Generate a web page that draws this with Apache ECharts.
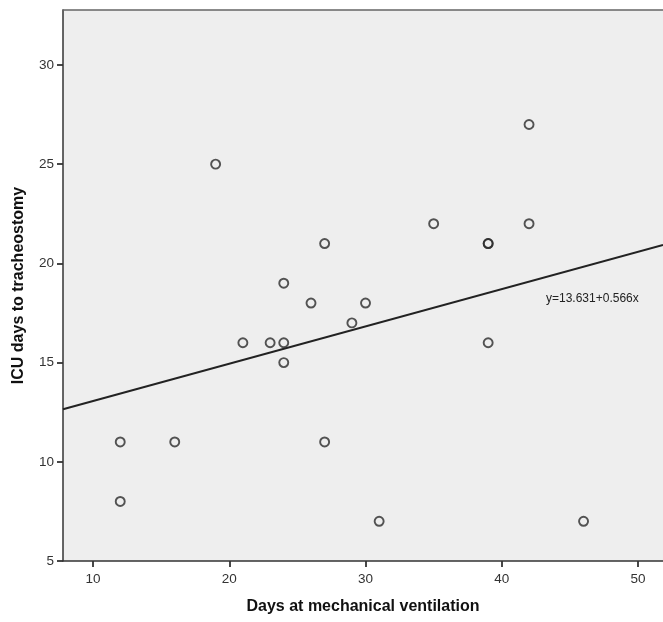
<!DOCTYPE html>
<html>
<head>
<meta charset="utf-8">
<script src="https://cdn.jsdelivr.net/npm/echarts@6/dist/echarts.min.js"></script>
<style>
html,body{margin:0;padding:0;background:#fff;}
#chart{width:663px;height:622px;}
</style>
</head>
<body>
<div id="chart"></div>
<script>
// Days at mechanical ventilation (x) vs ICU days to tracheostomy (y)
const ventDays = [12, 12, 16, 19, 21, 23, 24, 24, 24, 26, 27, 27, 29, 30, 31, 35, 39, 39, 39, 42, 42, 46];
const icuDays  = [11,  8, 11, 25, 16, 16, 19, 16, 15, 18, 21, 11, 17, 18,  7, 22, 21, 21, 16, 27, 22,  7];

// Fitted line as drawn (endpoints at the plot edges)
const fitX = [7.8, 51.83];
const fitY = [12.65, 20.93];
const equationText = 'y=13.631+0.566x';

// Axis ranges and tick labels
const xMin = 7.8, xMax = 51.83;
const yMin = 5, yMax = 32.77;
const xTicks = [10, 20, 30, 40, 50];
const yTicks = [5, 10, 15, 20, 25, 30];

const points = ventDays.map((v, i) => [v, icuDays[i]]);
const linePts = fitX.map((v, i) => [v, fitY[i]]);

const chart = echarts.init(document.getElementById('chart'), null, {renderer: 'canvas'});
const axisFont = {fontFamily: 'Liberation Sans, Arial, sans-serif', fontSize: 13.5, color: '#333'};
const nameFont = {fontFamily: 'Liberation Sans, Arial, sans-serif', fontSize: 16, fontWeight: 'bold', color: '#111'};

chart.setOption({
  animation: false,
  backgroundColor: '#ffffff',
  grid: {
    left: 63, top: 10, right: 0, bottom: 61,
    show: true, backgroundColor: '#eeeeee',
    borderWidth: 0, borderColor: 'transparent'
  },
  xAxis: [
    {
      type: 'value', min: xMin, max: xMax,
      name: 'Days at mechanical ventilation', nameLocation: 'middle', nameGap: 38,
      nameTextStyle: nameFont,
      axisLine: {show: true, onZero: false, lineStyle: {color: '#333', width: 1.5}},
      axisTick: {show: true, length: 6, customValues: xTicks, lineStyle: {color: '#333', width: 1.8}},
      axisLabel: {show: true, customValues: xTicks, margin: 11, ...axisFont},
      splitLine: {show: false}
    },
    {
      type: 'value', min: xMin, max: xMax, position: 'top',
      axisLine: {show: true, onZero: false, lineStyle: {color: '#666', width: 1.5}},
      axisTick: {show: false}, axisLabel: {show: false}, splitLine: {show: false}
    }
  ],
  yAxis: {
    type: 'value', min: yMin, max: yMax,
    name: 'ICU days to tracheostomy', nameLocation: 'middle', nameGap: 36, nameRotate: 90,
    nameTextStyle: nameFont,
    axisLine: {show: true, onZero: false, lineStyle: {color: '#333', width: 1.5}},
    axisTick: {show: true, length: 6, customValues: yTicks, lineStyle: {color: '#333', width: 1.8}},
    axisLabel: {show: true, customValues: yTicks, margin: 9, ...axisFont},
    splitLine: {show: false}
  },
  series: [
    {
      type: 'line', data: linePts, symbol: 'none', silent: true,
      lineStyle: {color: '#222', width: 2}, z: 2
    },
    {
      type: 'scatter', data: points, symbol: 'circle', symbolSize: 9,
      itemStyle: {color: 'rgba(0,0,0,0)', borderColor: '#2a2a2a', borderWidth: 1.9},
      z: 3
    }
  ],
  graphic: [
    {
      type: 'text', left: 546, top: 293,
      style: {text: equationText, fontFamily: 'Liberation Sans, Arial, sans-serif', fontSize: 12, fill: '#222'}
    }
  ]
});
</script>
</body>
</html>
